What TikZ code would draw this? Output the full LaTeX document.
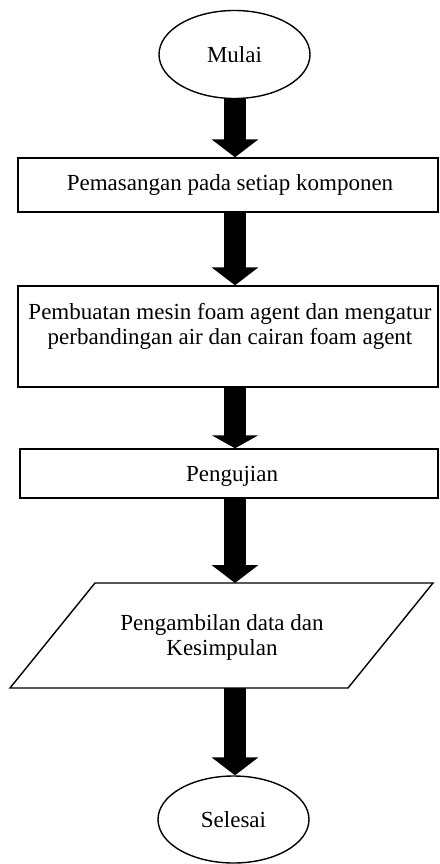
\documentclass[tikz,border=0pt]{standalone}
\usepackage{fontspec}
\setmainfont{Liberation Serif}
\usetikzlibrary{arrows.meta,shapes.geometric}
\begin{document}
\begin{tikzpicture}[x=1pt,y=-1pt,
  every node/.style={font=\fontsize{23}{25}\selectfont},
  term/.style={draw,line width=1.4pt,ellipse,minimum width=151pt,minimum height=88pt,inner sep=0pt},
  procbox/.style={draw,line width=1.4pt,rectangle,inner sep=0pt},
  txt/.style={align=center,inner sep=0pt},
  fat/.style={line width=22pt,-{Triangle[width=46pt,length=18pt]}}]
\useasboundingbox (0,0) rectangle (439,864);
\node[term] (mulai) at (234.5,54.5) {Mulai};
\node[procbox,minimum width=420pt,minimum height=54pt] (b1) at (228,185) {};
\node[txt] (b1t) at (230,185) {Pemasangan pada setiap komponen};
\node[procbox,minimum width=420pt,minimum height=101pt] (b2) at (228,336.5) {};
\node[txt] (b2t) at (230,326) {Pembuatan mesin foam agent dan mengatur\\perbandingan air dan cairan foam agent};
\node[procbox,minimum width=418pt,minimum height=49pt] (b3) at (229,473.5) {};
\node[txt] (b3t) at (232,476) {Pengujian};
\coordinate (p1) at (95,583);
\coordinate (p2) at (433,583);
\coordinate (p3) at (348,688);
\coordinate (p4) at (10,688);
\draw[line width=1.4pt,line join=miter] (p1) -- (p2) -- (p3) -- (p4) -- cycle;
\node[txt] (dt) at (222,637) {Pengambilan data dan\\Kesimpulan};
\coordinate (ptop) at (235,583);
\coordinate (pbot) at (235,688);
\node[term,minimum width=151pt,minimum height=87pt] (selesai) at (233.5,819.5) {Selesai};
\draw[fat] (mulai.south -| ptop) -- (b1.north -| ptop);
\draw[fat] (b1.south -| ptop) -- (b2.north -| ptop);
\draw[line width=22pt,-{Triangle[width=46pt,length=13pt]}] (b2.south -| ptop) -- (b3.north -| ptop);
\draw[fat] (b3.south -| ptop) -- (ptop);
\draw[fat] (pbot) -- (selesai.north -| ptop);
\end{tikzpicture}
\end{document}
